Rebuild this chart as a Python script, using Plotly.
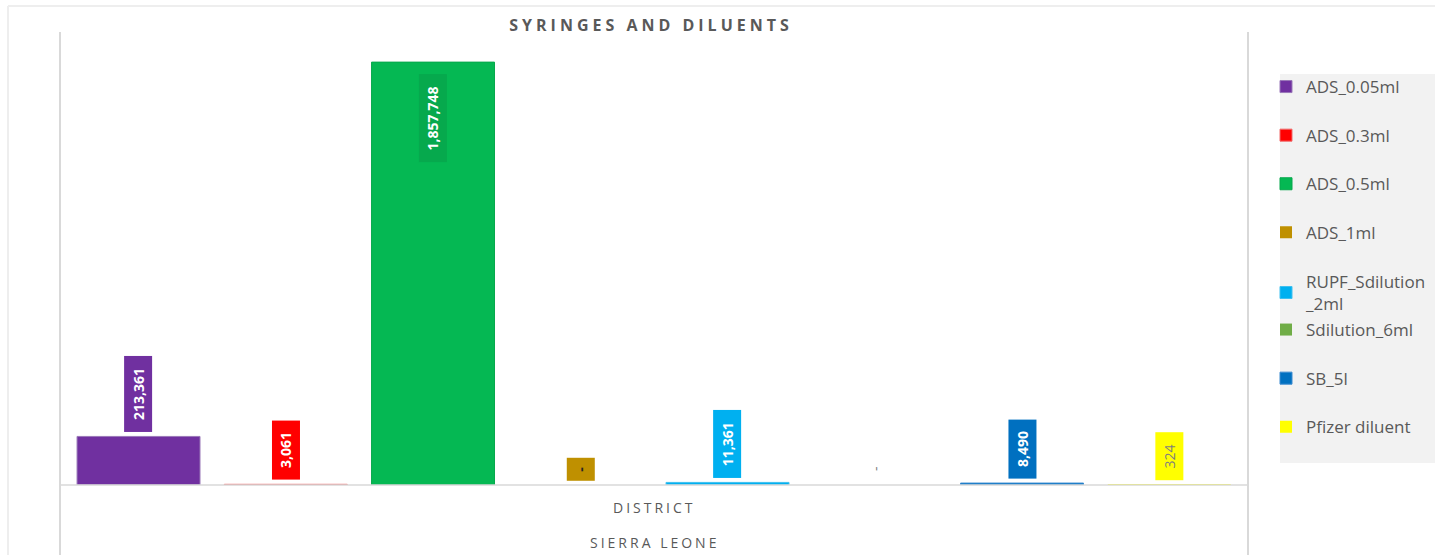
import plotly.graph_objects as go

# ---- data ----
title = "SYRINGES AND DILUENTS"
categories = ["DISTRICT"]
group_label = "SIERRA LEONE"
series_names = ["ADS_0.05ml", "ADS_0.3ml", "ADS_0.5ml", "ADS_1ml",
                "RUPF_Sdilution_2ml", "Sdilution_6ml", "SB_5l", "Pfizer diluent"]
series_values = [213361, 3061, 1857748, 0, 11361, 0, 8490, 324]
legend_labels = ["ADS_0.05ml", "ADS_0.3ml", "ADS_0.5ml", "ADS_1ml",
                 "RUPF_Sdilution<br>_2ml", "Sdilution_6ml", "SB_5l", "Pfizer diluent"]

# ---- style ----
W, H = 1435, 555
ML, MR, MT, MB = 60, 187, 32, 70
PW, PH = W - ML - MR, H - MT - MB
colors = ["#7030A0", "#FF0000", "#05B853", "#BF9000", "#00B0F0", "#70AD47", "#0070C0", "#FFFF00"]
line_colors = ["#9a78b8", "#f06a6a", "#07a84c", "#BF9000", "#3fc0f0", "#70AD47", "#3a8ad0", "#FFFF00"]
line_widths = [1, 1, 1, 0, 1, 0, 1, 0]
label_bg = ["#7030A0", "#FF0000", "#06A94D", "#BF9000", "#00B0F0", "rgba(0,0,0,0)", "#0070C0", "#FFFF00"]
label_font_colors = ["white", "white", "white", "#262626", "white", "#7f7f7f", "white", "#7f7f7f"]
label_bold = [True, True, True, True, True, False, True, False]
FONT = "Open Sans"
GREY = "#595959"
# category band inside the plot area (pixels), slightly inset from the divider lines
BAND_L, BAND_R = 64.9, 1242.9


def px_x(p):  # pixel -> paper x
    return (p - ML) / PW


def px_y(p):  # pixel -> paper y
    return (H - MB - p) / PH


band = BAND_R - BAND_L
x_range = [-0.5 - (BAND_L - ML) / band, 0.5 + (ML + PW - BAND_R) / band]

n = len(series_names)
fig = go.Figure()
legends = {}
for i, (name, val) in enumerate(zip(series_names, series_values)):
    key = "legend" if i == 0 else f"legend{i + 1}"
    fig.add_trace(go.Bar(
        x=categories, y=[val], name=legend_labels[i], legend=key,
        marker=dict(color=colors[i], line=dict(color=line_colors[i], width=line_widths[i])),
        hoverinfo="skip",
    ))
    yc = 87 + 48.6 * i + (11.5 if "<br>" in legend_labels[i] else 0)
    legends[key] = dict(
        xref="container", yref="container", x=1266 / W, xanchor="left",
        y=1 - yc / H, yanchor="middle", bgcolor="rgba(0,0,0,0)",
        font=dict(family=FONT, size=17, color=GREY), itemwidth=30, borderwidth=0,
    )


def fmt(v):
    return f"{v:,}" if v else "-"


annotations = []
for i, val in enumerate(series_values):
    txt = fmt(val)
    digits = sum(c.isdigit() for c in txt)
    commas = txt.count(",")
    box_len = 8.5 * digits + 3 * commas + 21 if val else 22
    t = f"<b>{txt}</b>" if label_bold[i] else txt
    xpos = -0.5 + (i + 0.5) / n
    inside = val > 1_000_000
    annotations.append(dict(
        x=xpos, y=val, xref="x", yref="y", text=t, showarrow=False,
        textangle=-90, font=dict(family=FONT, size=14, color=label_font_colors[i]),
        bgcolor=label_bg[i], borderpad=0, width=box_len, height=27,
        yanchor="top" if inside else "bottom",
        yshift=-12 if inside else 4,
    ))

# multi-level category labels
annotations.append(dict(x=0.5, y=px_y(507), xref="paper", yref="paper", text=categories[0],
                        showarrow=False, yanchor="middle",
                        font=dict(family=FONT, size=14, color=GREY)))
annotations.append(dict(x=0.5, y=px_y(542), xref="paper", yref="paper", text=group_label,
                        showarrow=False, yanchor="middle",
                        font=dict(family=FONT, size=14, color=GREY)))

shapes = [
    # chart outer border (top & left)
    dict(type="line", xref="paper", yref="paper", x0=px_x(8), x1=px_x(W + 10), y0=px_y(6), y1=px_y(6),
         line=dict(color="#eeeeee", width=2)),
    dict(type="line", xref="paper", yref="paper", x0=px_x(8), x1=px_x(8), y0=px_y(6), y1=px_y(H + 10),
         line=dict(color="#eeeeee", width=2)),
    # legend background
    dict(type="rect", xref="paper", yref="paper", x0=px_x(1280), x1=px_x(W + 10),
         y0=px_y(463), y1=px_y(74), fillcolor="#f2f2f2", line=dict(width=0), layer="below"),
    # category dividers
    dict(type="line", xref="paper", yref="paper", x0=0, x1=0, y0=1.0, y1=px_y(H + 10),
         line=dict(color="#d9d9d9", width=2)),
    dict(type="line", xref="paper", yref="paper", x0=1, x1=1, y0=1.0, y1=px_y(H + 10),
         line=dict(color="#d9d9d9", width=2)),
    # baseline
    dict(type="line", xref="paper", yref="paper", x0=0, x1=1, y0=0, y1=0,
         line=dict(color="#d9d9d9", width=1.5)),
]

fig.update_layout(
    width=W, height=H,
    margin=dict(l=ML, r=MR, t=MT, b=MB, autoexpand=False),
    paper_bgcolor="white", plot_bgcolor="white",
    barmode="group", bargap=0, bargroupgap=0.165,
    title=dict(text=f"<b>{title}</b>", x=651 / W, xanchor="center", y=1 - 25 / H, yanchor="middle",
               font=dict(family=FONT, size=16, color=GREY)),
    xaxis=dict(range=x_range, showticklabels=False, showgrid=False, zeroline=False,
               showline=False, ticks=""),
    yaxis=dict(range=[0, 1990000], visible=False, showgrid=False, zeroline=False),
    showlegend=True,
    annotations=annotations, shapes=shapes,
    **legends,
)

post = """
document.body.style.margin = '0';
document.querySelectorAll('.gtitle').forEach(function (e) { e.style.letterSpacing = '4px'; });
document.querySelectorAll('.annotation-text').forEach(function (e) {
  var t = e.textContent;
  if (t === 'DISTRICT' || t === 'SIERRA LEONE') { e.style.letterSpacing = '3px'; }
});
"""

fig.write_html("out.html", post_script=post, config={"displayModeBar": False})
